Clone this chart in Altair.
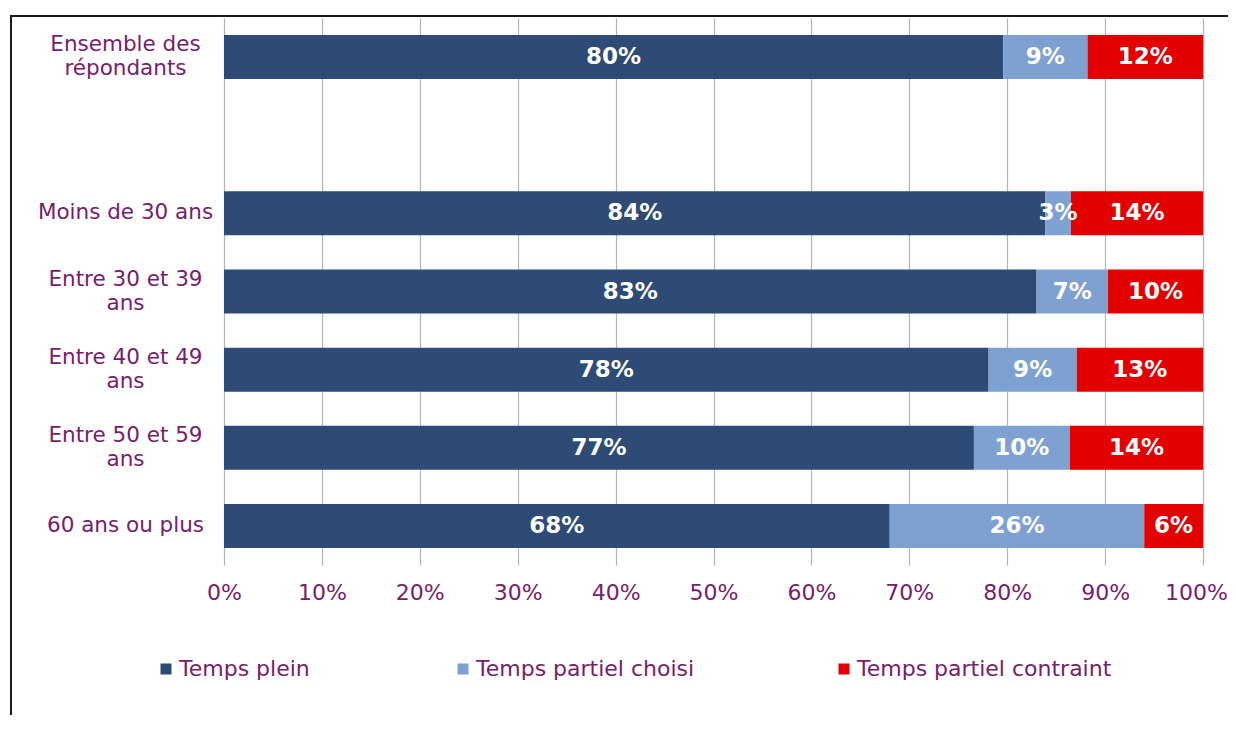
import altair as alt
import pandas as pd

categories = ["Ensemble des\nrépondants", " ", "Moins de 30 ans", "Entre 30 et 39\nans",
              "Entre 40 et 49\nans", "Entre 50 et 59\nans", "60 ans ou plus"]
data_categories = ["Ensemble des\nrépondants", "Moins de 30 ans", "Entre 30 et 39\nans",
                   "Entre 40 et 49\nans", "Entre 50 et 59\nans", "60 ans ou plus"]
series = ["Temps plein", "Temps partiel choisi", "Temps partiel contraint"]
temps_plein = [79.6, 83.9, 83.0, 78.1, 76.6, 68.0]
partiel_choisi = [8.6, 2.6, 7.3, 9.0, 9.8, 26.0]
partiel_contraint = [11.8, 13.5, 9.7, 12.9, 13.6, 6.0]
x_ticks = [0, 10, 20, 30, 40, 50, 60, 70, 80, 90, 100]

colors = ["#2D4B74", "#7EA1D2", "#E20000"]
purple = "#76206F"
FONT = "DejaVu Sans"

rows = []
for vals, s_i in zip([temps_plein, partiel_choisi, partiel_contraint], range(3)):
    for c, v in zip(data_categories, vals):
        rows.append({"cat": c, "series": series[s_i], "order": s_i, "value": v})
df = pd.DataFrame(rows)

base = alt.Chart(df).transform_stack(
    stack="value", groupby=["cat"], as_=["x0", "x1"], sort=[alt.SortField("order")]
).transform_calculate(
    mid="(datum.x0 + datum.x1) / 2",
    label="round(datum.value) + '%'"
)

x_scale = alt.Scale(domain=[0, 100], nice=False)
y_scale = alt.Scale(domain=categories, paddingInner=0.437, paddingOuter=0.2185)

x_axis = alt.Axis(values=x_ticks, labelExpr="datum.value + '%'", grid=True, gridColor="#B5B5B5",
                  gridWidth=1.2, domain=False, ticks=False, labelPadding=17, labelFlush=False,
                  labelOffset={"condition": {"test": "datum.value >= 100", "value": -7}, "value": 0},
                  labelFont=FONT, labelFontSize=22, labelColor=purple, title=None)
y_axis = alt.Axis(labelExpr="split(datum.label, '\\n')", labelAlign="center", labelBaseline="middle",
                  labelOffset={"condition": {"test": "indexof(datum.value, '\\n') >= 0", "value": -12},
                               "value": 0},
                  labelPadding=99, labelLineHeight=24, ticks=False, tickSize=0, domain=False,
                  grid=False, labelFont=FONT, labelFontSize=21.5, labelColor=purple, title=None,
                  labelLimit=300)

legend_x = [-69, 228, 609]

layers = []
for i, s in enumerate(series):
    layers.append(
        base.transform_filter(alt.datum.series == s).mark_bar().encode(
            x=alt.X("x0:Q", scale=x_scale, axis=x_axis),
            x2="x1:Q",
            y=alt.Y("cat:N", scale=y_scale, axis=y_axis),
            color=alt.Color("series:N", scale=alt.Scale(domain=[s], range=[colors[i]]),
                            legend=alt.Legend(orient="none", legendX=legend_x[i], legendY=640,
                                              title=None, symbolType="square", symbolSize=121,
                                              symbolStrokeWidth=0, symbolOpacity=1, padding=0,
                                              labelOffset=2, labelFont=FONT, labelFontSize=22,
                                              labelColor=purple, labelLimit=400))
        )
    )

labels = base.mark_text(color="white", fontWeight="bold", font=FONT, fontSize=23,
                        baseline="middle", align="center").encode(
    x=alt.X("mid:Q", scale=x_scale, axis=x_axis),
    y=alt.Y("cat:N", scale=y_scale, axis=y_axis),
    text="label:N"
)

frame_df = pd.DataFrame({"k": [0]})
frame_top = alt.Chart(frame_df).mark_rule(color="#1A1A1A", strokeWidth=2).encode(
    x=alt.value(-214), x2=alt.value(1060), y=alt.value(-2))
frame_left = alt.Chart(frame_df).mark_rule(color="#1A1A1A", strokeWidth=2).encode(
    x=alt.value(-213), y=alt.value(-3), y2=alt.value(760))

chart = alt.layer(*layers, labels, frame_top, frame_left).resolve_scale(
    color="independent"
).properties(
    width=979, height=547,
    autosize=alt.AutoSizeParams(type="none"),
    padding={"left": 216, "top": 10, "right": 25, "bottom": 150},
    background="white"
).configure_view(stroke=None)

chart.save("out.html", embed_options={"renderer": "svg", "actions": False})
